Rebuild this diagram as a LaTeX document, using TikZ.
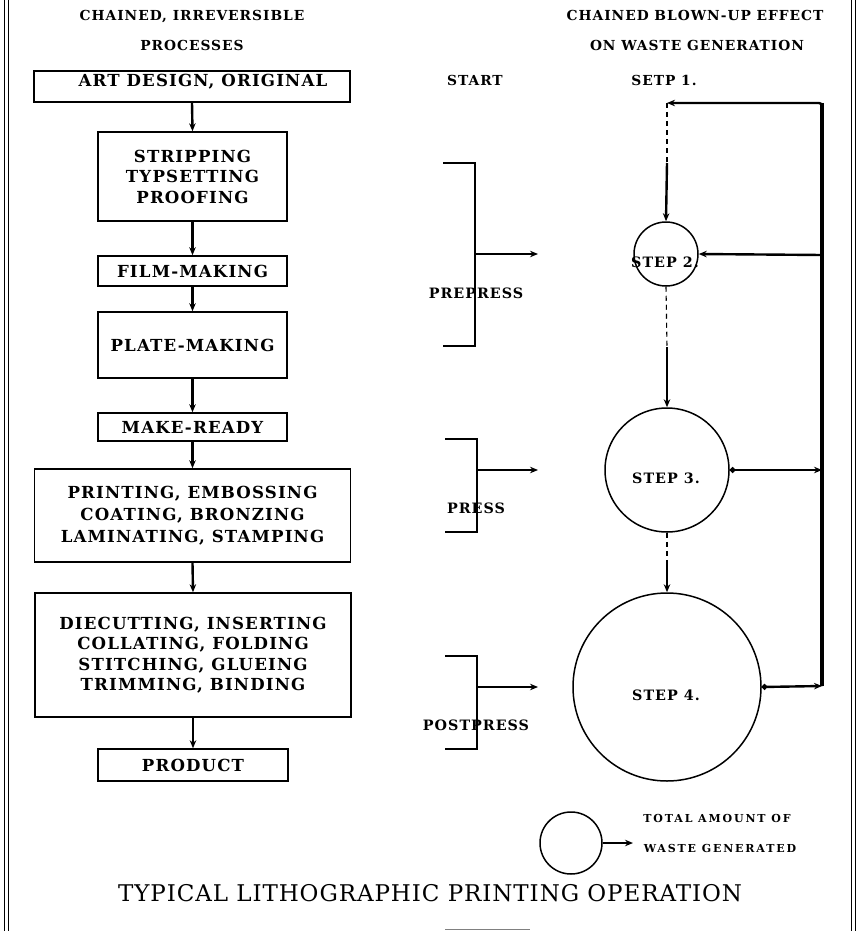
\documentclass[tikz,border=0pt]{standalone}
\usepackage{fontspec}
\setmainfont{DejaVu Serif}
\newfontfamily\slab{DejaVu Serif}[LetterSpace=7]
\newfontfamily\slabwide{DejaVu Serif}[LetterSpace=17]
\newfontfamily\titlefnt{DejaVu Serif}[LetterSpace=4]
\usetikzlibrary{arrows.meta}
\tikzset{
  boxnode/.style={draw,line width=1.5pt,inner sep=0pt,align=center,font=\slab\bfseries\fontsize{16.6}{20.5}\selectfont},
  boxtext/.style={inner sep=0pt,text depth=0pt,font=\slab\bfseries\fontsize{16.6}{20.5}\selectfont},
  lbl/.style={inner sep=0pt,text depth=0pt,font=\slab\bfseries\fontsize{14.3}{16}\selectfont},
  hdr/.style={inner sep=0pt,text depth=0pt,font=\slab\bfseries\fontsize{13.8}{16}\selectfont},
  smalltxt/.style={inner sep=0pt,text depth=0pt,font=\slabwide\bfseries\fontsize{11}{13}\selectfont},
  stepc/.style={draw,circle,line width=1.5pt,inner sep=0pt},
  flow/.style={line width=2.4pt,-{Stealth[length=8pt,width=6.5pt]}},
  thinline/.style={line width=1.5pt},
  dashline/.style={line width=1.1pt,dash pattern=on 5pt off 4pt},
  dotstart/.style={{Circle[length=5.5pt]}-{Stealth[length=8pt,width=6.5pt]}}
}
\begin{document}
\begin{tikzpicture}[x=1pt,y=-1pt]
\useasboundingbox (0,0) rectangle (860,931);
% border
\draw[line width=1pt] (4,0)--(4,931) (8,0)--(8,931) (851,0)--(851,931) (855,0)--(855,931);
% headers
\node[hdr] (h1) at (192,15) {CHAINED, IRREVERSIBLE};
\node[hdr] (h2) at (192,45) {PROCESSES};
\node[hdr] (h3) at (695,15) {CHAINED BLOWN-UP EFFECT};
\node[hdr] (h4) at (697,45) {ON WASTE GENERATION};
\node[hdr] (start) at (475,80) {START};
\node[hdr] (setp) at (664,80) {SETP 1.};
% left column boxes
\node[boxnode,minimum width=316pt,minimum height=31pt] (art) at (192,86.5) {};
\node[boxtext] (arttext) at (203,80.5) {ART DESIGN, ORIGINAL};
\node[boxnode,minimum width=189pt,minimum height=89pt] (strip) at (192.5,176.5) {STRIPPING\\TYPSETTING\\PROOFING};
\node[boxnode,minimum width=189pt,minimum height=30pt] (film) at (192.5,271) {FILM-MAKING};
\node[boxnode,minimum width=189pt,minimum height=66pt] (plate) at (192.5,345) {PLATE-MAKING};
\node[boxnode,minimum width=189pt,minimum height=28pt] (make) at (192.5,427) {MAKE-READY};
\node[boxnode,minimum width=316pt,minimum height=93pt,font=\slab\bfseries\fontsize{16.6}{22}\selectfont] (print) at (192.5,515.5) {PRINTING, EMBOSSING\\COATING, BRONZING\\LAMINATING, STAMPING};
\node[boxnode,minimum width=316pt,minimum height=124pt] (die) at (193,655) {DIECUTTING, INSERTING\\COLLATING, FOLDING\\STITCHING, GLUEING\\TRIMMING, BINDING};
\node[boxnode,minimum width=190pt,minimum height=32pt] (prod) at (193,765) {PRODUCT};
\draw[flow] (art.south) -- (strip.north);
\draw[flow] (strip.south) -- (film.north);
\draw[flow] (film.south) -- (plate.north);
\draw[flow] (plate.south) -- (make.north);
\draw[flow] (make.south) -- (print.north);
\draw[flow] (print.south) -- (die.north);
\draw[flow] (die.south) -- (prod.north);
% circles
\node[stepc,minimum size=64pt] (c2) at (666,254) {};
\node[stepc,minimum size=124pt] (c3) at (667,470) {};
\node[stepc,minimum size=188pt] (c4) at (667,687) {};
\node[lbl] (s2) at (665,262) {STEP 2.};
\node[lbl] (s3) at (666,478) {STEP 3.};
\node[lbl] (s4) at (666,695) {STEP 4.};
% chain
\coordinate (tl) at (667,103);
\coordinate (tr) at (822,103);
\coordinate (d1) at (667,163);
\coordinate (d2) at (667,347);
\coordinate (d3) at (667,562);
\coordinate (rb) at (822,686);
\coordinate (r2) at (822,255);
\coordinate (r3) at (822,470);
\draw[line width=3.6pt] (tr) -- (rb);
\draw[line width=2.4pt,rounded corners=3pt,-{Stealth[length=8pt,width=6.5pt]}] (rb) -- (tr) -- (tl);
\draw[dashline] (tl) -- (d1);
\draw[flow] (d1) -- (c2.north);
\draw[dashline] (c2.south) -- (d2);
\draw[flow] (d2) -- (c3.north);
\draw[dashline] (c3.south) -- (d3);
\draw[flow] (d3) -- (c4.north);
\draw[flow] (r2) -- (c2.east);
\draw[flow,dotstart] (c3.east) -- (r3);
\draw[flow,dotstart] (c4.east) -- (rb);
% brackets
\coordinate (pa) at (443,163); \coordinate (pb) at (475,163); \coordinate (pc) at (475,346); \coordinate (pd) at (443,346);
\coordinate (pm) at (475,254); \coordinate (pe) at (538,254);
\draw[thinline] (pa) -- (pb) -- (pc) -- (pd);
\draw[flow] (pm) -- (pe);
\coordinate (qa) at (445,439); \coordinate (qb) at (477,439); \coordinate (qc) at (477,532); \coordinate (qd) at (445,532);
\coordinate (qm) at (477,470); \coordinate (qe) at (538,470);
\draw[thinline] (qa) -- (qb) -- (qc) -- (qd);
\draw[flow] (qm) -- (qe);
\coordinate (ra) at (445,656); \coordinate (rbb) at (477,656); \coordinate (rc) at (477,749); \coordinate (rd) at (445,749);
\coordinate (rm) at (477,687); \coordinate (re) at (538,687);
\draw[thinline] (ra) -- (rbb) -- (rc) -- (rd);
\draw[flow] (rm) -- (re);
\node[lbl] (prepress) at (476,293) {PREPRESS};
\node[lbl] (press) at (476,508) {PRESS};
\node[lbl] (postpress) at (476,725) {POSTPRESS};
% legend
\node[stepc,minimum size=62pt] (lc) at (571,843) {};
\coordinate (la) at (633,843);
\draw[flow] (lc.east) -- (la);
\node[smalltxt] (t1) at (717,818) {TOTAL AMOUNT OF};
\node[smalltxt] (t2) at (720,848) {WASTE GENERATED};
% title
\node[inner sep=0pt,text depth=0pt,font=\titlefnt\fontsize{23}{26}\selectfont] (title) at (430,893) {TYPICAL LITHOGRAPHIC PRINTING OPERATION};
\coordinate (ba) at (445,929); \coordinate (bb) at (530,929);
\draw[line width=1pt,gray] (ba) -- (bb);
\end{tikzpicture}
\end{document}
